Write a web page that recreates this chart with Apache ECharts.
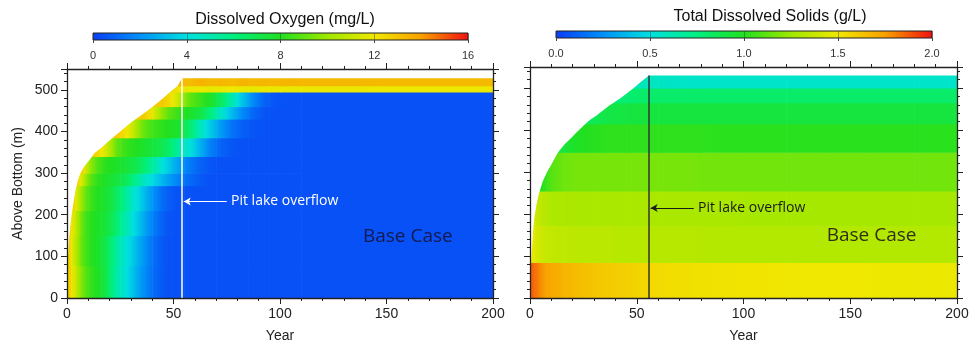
<!DOCTYPE html>
<html>
<head>
<meta charset="utf-8">
<script src="https://cdn.jsdelivr.net/npm/echarts@6/dist/echarts.min.js"></script>
<style>
html, body { margin: 0; padding: 0; background: #fff; }
#chart { width: 973px; height: 348px; }
</style>
</head>
<body>
<div id="chart"></div>
<script>
// lake surface (m above pit bottom) while the pit fills
var doLevelYears = [0, 0.5, 1, 1.5, 2, 3, 4, 5, 6, 8, 10, 13, 16, 19, 22, 25, 28, 31, 34, 37, 40, 43, 46, 49, 52, 54, 200];
var doLakeLevel = [70, 105, 140, 168, 192, 228, 258, 280, 296, 315, 328, 348, 360, 374, 387, 400, 413, 425, 436, 447, 459, 471, 484, 497, 510, 528, 528];
var tdsLevelYears = [0, 0.5, 1, 1.5, 2, 3, 4, 5, 6, 8, 10, 13, 16, 19, 22, 25, 28, 31, 34, 37, 40, 43, 46, 49, 52, 55.7, 200];
var tdsLakeLevel = [50, 85, 125, 165, 190, 222, 245, 262, 278, 300, 318, 346, 365, 380, 395, 410, 424, 434, 446, 458, 468, 478, 490, 502, 515, 530, 530];

// dissolved oxygen (mg/L): year column edges, depth band edges, one row per band
var doYears = [0, 2, 4, 6, 8, 10, 13, 16, 19, 22, 25, 28, 31, 34, 37, 40, 43, 46, 49, 52, 55, 60, 65, 70, 75, 80, 85, 90, 95, 100, 110, 200];
var doDepths = [0, 78, 150, 210, 270, 300, 340, 385, 430, 460, 495, 510, 530];
var do_0_78 = [12.8, 11.6, 10.4, 9.4, 8.8, 8.3, 7.9, 7.3, 6.2, 5.1, 4.4, 3.6, 2.8, 2.1, 1.5, 1.0, 0.7, 0.5, 0.5, 0.5, 0.5, 0.5, 0.5, 0.5, 0.5, 0.5, 0.5, 0.5, 0.5, 0.5, 0.5];
var do_78_150 = [12.6, 11.2, 10.0, 9.0, 8.5, 8.1, 7.7, 7.2, 6.3, 5.3, 4.5, 3.8, 3.0, 2.3, 1.6, 1.1, 0.7, 0.5, 0.5, 0.5, 0.5, 0.5, 0.5, 0.5, 0.5, 0.5, 0.5, 0.5, 0.5, 0.5, 0.5];
var do_150_210 = [12.7, 11.5, 10.2, 9.1, 8.5, 8.1, 7.8, 7.5, 7.0, 6.2, 5.3, 4.5, 3.6, 2.8, 2.0, 1.4, 0.9, 0.6, 0.5, 0.5, 0.5, 0.5, 0.5, 0.5, 0.5, 0.5, 0.5, 0.5, 0.5, 0.5, 0.5];
var do_210_270 = [null, 12.6, 11.0, 9.8, 9.0, 8.4, 8.0, 7.7, 7.3, 6.6, 5.8, 4.9, 4.1, 3.3, 2.5, 1.8, 1.2, 0.8, 0.6, 0.5, 0.5, 0.5, 0.5, 0.5, 0.5, 0.5, 0.5, 0.5, 0.5, 0.5, 0.5];
var do_270_300 = [null, null, 12.6, 11.2, 9.8, 8.8, 8.2, 7.9, 7.6, 7.3, 7.0, 6.4, 5.6, 4.8, 4.2, 3.6, 3.0, 2.4, 1.9, 1.5, 1.1, 0.7, 0.5, 0.5, 0.5, 0.5, 0.5, 0.5, 0.5, 0.5, 0.5];
var do_300_340 = [null, null, null, 12.8, 11.0, 9.6, 8.7, 8.2, 8.0, 7.8, 7.6, 7.3, 7.0, 6.5, 5.8, 5.0, 4.2, 3.5, 2.8, 2.2, 1.5, 0.9, 0.6, 0.5, 0.5, 0.5, 0.5, 0.5, 0.5, 0.5, 0.5];
var do_340_385 = [null, null, null, null, null, 12.8, 12.4, 11.6, 10.2, 9.0, 8.5, 8.2, 8.0, 7.8, 7.5, 7.3, 7.0, 6.5, 5.8, 5.0, 4.2, 2.8, 1.6, 0.9, 0.6, 0.5, 0.5, 0.5, 0.5, 0.5, 0.5];
var do_385_430 = [null, null, null, null, null, null, null, null, 12.8, 12.8, 12.3, 11.5, 10.2, 9.2, 8.7, 8.4, 8.2, 8.0, 7.8, 7.6, 6.4, 4.8, 3.4, 2.2, 1.3, 0.8, 0.6, 0.5, 0.5, 0.5, 0.5];
var do_430_460 = [null, null, null, null, null, null, null, null, null, null, null, null, 12.8, 12.8, 12.3, 11.0, 9.8, 9.0, 8.6, 8.2, 7.8, 7.2, 6.0, 4.4, 3.0, 1.8, 1.0, 0.6, 0.5, 0.5, 0.5];
var do_460_495 = [null, null, null, null, null, null, null, null, null, null, null, null, null, null, null, 12.8, 12.8, 12.5, 11.6, 10.4, 9.0, 8.4, 7.8, 6.6, 5.0, 3.2, 1.8, 0.9, 0.6, 0.5, 0.5];
var do_495_510 = [null, null, null, null, null, null, null, null, null, null, null, null, null, null, null, null, null, 12.6, 12.3, 12.0, 11.8, 11.9, 11.7, 11.8, 12.0, 11.8, 11.7, 11.9, 11.8, 11.8, 11.9];
var do_510_530 = [null, null, null, null, null, null, null, null, null, null, null, null, null, null, null, null, null, null, 13.2, 13.4, 13.2, 13.5, 13.3, 13.4, 13.2, 13.5, 13.3, 13.4, 13.3, 13.4, 13.3];

// total dissolved solids (g/L)
var tdsYears = [0, 2, 4, 6, 8, 10, 13, 16, 20, 25, 30, 35, 40, 45, 50, 55, 60, 70, 80, 100, 120, 140, 160, 180, 200];
var tdsDepths = [0, 85, 173, 255, 347, 415, 465, 500, 535];
var tds_0_85 = [1.86, 1.82, 1.78, 1.75, 1.73, 1.71, 1.69, 1.67, 1.65, 1.63, 1.61, 1.60, 1.59, 1.58, 1.56, 1.55, 1.54, 1.53, 1.52, 1.51, 1.50, 1.50, 1.49, 1.49];
var tds_85_173 = [1.48, 1.42, 1.39, 1.37, 1.36, 1.35, 1.34, 1.34, 1.33, 1.33, 1.33, 1.33, 1.32, 1.32, 1.32, 1.32, 1.32, 1.32, 1.31, 1.31, 1.31, 1.31, 1.31, 1.31];
var tds_173_255 = [1.44, 1.38, 1.34, 1.32, 1.30, 1.29, 1.29, 1.28, 1.28, 1.28, 1.28, 1.28, 1.28, 1.28, 1.28, 1.28, 1.28, 1.28, 1.28, 1.27, 1.27, 1.27, 1.27, 1.27];
var tds_255_347 = [null, null, 1.00, 1.04, 1.08, 1.12, 1.14, 1.16, 1.17, 1.17, 1.17, 1.17, 1.17, 1.17, 1.17, 1.17, 1.17, 1.17, 1.16, 1.16, 1.16, 1.16, 1.16, 1.16];
var tds_347_415 = [null, null, null, null, null, null, 0.92, 0.96, 0.99, 1.01, 1.02, 1.03, 1.03, 1.03, 1.03, 1.03, 1.03, 1.03, 1.02, 1.02, 1.02, 1.02, 1.02, 1.02];
var tds_415_465 = [null, null, null, null, null, null, null, null, null, 0.85, 0.88, 0.90, 0.91, 0.92, 0.92, 0.92, 0.92, 0.92, 0.92, 0.92, 0.92, 0.92, 0.92, 0.92];
var tds_465_500 = [null, null, null, null, null, null, null, null, null, null, null, 0.76, 0.78, 0.80, 0.81, 0.81, 0.81, 0.81, 0.81, 0.81, 0.81, 0.81, 0.81, 0.81];
var tds_500_535 = [null, null, null, null, null, null, null, null, null, null, null, null, null, 0.62, 0.60, 0.58, 0.57, 0.56, 0.56, 0.56, 0.56, 0.56, 0.56, 0.56];

var doTicks = [0, 4, 8, 12, 16];
var tdsTicks = [0, 0.5, 1, 1.5, 2];
var palette = ['#0a3cf5', '#0090f8', '#00e0e0', '#00f080', '#20e020', '#a0e800', '#f0e800', '#f8a000', '#f01010'];

var FONT = 'Liberation Sans';

// each cell keeps its neighbours' values so the fill can blend across the column edges
function buildCells(xEdges, zEdges, rows) {
    var out = [];
    rows.forEach(function (row, j) {
        row.forEach(function (v, i) {
            if (v == null) return;
            var prev = row[i - 1] == null ? v : row[i - 1];
            var next = row[i + 1] == null ? v : row[i + 1];
            out.push([xEdges[i], xEdges[i + 1], zEdges[j], zEdges[j + 1], v, prev, next]);
        });
    });
    return out;
}

function cellRenderer(max) {
    function col(v) {
        return echarts.color.lerp(Math.max(0, Math.min(1, v / max)), palette);
    }
    return function (params, api) {
        var a = api.coord([api.value(0), api.value(3)]);
        var b = api.coord([api.value(1), api.value(2)]);
        var v = api.value(4), p = api.value(5), n = api.value(6);
        return {
            type: 'rect',
            shape: { x: a[0], y: a[1], width: b[0] - a[0] + 0.6, height: b[1] - a[1] + 0.6 },
            style: {
                fill: new echarts.graphic.LinearGradient(0, 0, 1, 0, [
                    { offset: 0, color: col((p + v) / 2) },
                    { offset: 0.5, color: col(v) },
                    { offset: 1, color: col((v + n) / 2) }
                ])
            }
        };
    };
}

function maskRenderer(years, levels) {
    return function (params, api) {
        var pts = years.map(function (x, i) { return api.coord([x, levels[i]]); });
        pts.push(api.coord([200, 550]), api.coord([0, 550]));
        return { type: 'polygon', shape: { points: pts }, style: { fill: '#fff' } };
    };
}

function colorbarRect(params, api) {
    var a = api.coord([api.value(0), 1]);
    var b = api.coord([api.value(1), 0]);
    return {
        type: 'rect',
        shape: { x: a[0], y: a[1], width: b[0] - a[0], height: b[1] - a[1] },
        style: {
            fill: new echarts.graphic.LinearGradient(0, 0, 1, 0, palette.map(function (c, i) {
                return { offset: i / (palette.length - 1), color: c };
            })),
            stroke: '#222',
            lineWidth: 1
        }
    };
}

var lineStyle = { color: '#222', width: 1.3 };
function frameX(grid, pos, labels, name) {
    return {
        type: 'value', gridIndex: grid, position: pos, min: 0, max: 200, interval: 50, z: 10,
        name: name || '', nameLocation: 'middle', nameGap: 31,
        nameTextStyle: { fontFamily: FONT, fontSize: 14, color: '#222' },
        axisLine: { show: true, onZero: false, lineStyle: lineStyle },
        axisTick: { show: true, length: 6, lineStyle: { color: '#222' } },
        minorTick: { show: true, splitNumber: 5, length: 3, lineStyle: { color: '#222' } },
        splitLine: { show: false },
        axisLabel: { show: labels, fontFamily: FONT, fontSize: 14, color: '#222', margin: 9 }
    };
}
function frameY(grid, pos, labels, name) {
    return {
        type: 'value', gridIndex: grid, position: pos, min: 0, max: 550, interval: 100, z: 10,
        name: name || '', nameLocation: 'middle', nameGap: 42, nameRotate: 90,
        nameTextStyle: { fontFamily: FONT, fontSize: 14, color: '#222' },
        axisLine: { show: true, onZero: false, lineStyle: lineStyle },
        axisTick: { show: true, length: 6, lineStyle: { color: '#222' } },
        minorTick: { show: true, splitNumber: 5, length: 3, lineStyle: { color: '#222' } },
        splitLine: { show: false },
        axisLabel: {
            show: labels, fontFamily: FONT, fontSize: 14, color: '#222', margin: 9,
            formatter: function (v) { return v % 100 === 0 ? String(v) : ''; }
        }
    };
}
function colorbarX(grid, ticks, digits) {
    return {
        type: 'value', gridIndex: grid, min: ticks[0], max: ticks[ticks.length - 1],
        interval: ticks[1] - ticks[0], z: 10,
        axisLine: { show: false },
        axisTick: { show: true, length: 3, lineStyle: { color: '#444' } },
        splitLine: { show: true, lineStyle: { color: 'rgba(60,60,60,0.45)', width: 1 } },
        axisLabel: {
            fontFamily: FONT, fontSize: 11, color: '#333', margin: 10,
            formatter: function (v) { return v.toFixed(digits); }
        }
    };
}

function annotations(lineX, lineTop, lineColor, arrowY, textColor, baseY, baseColor) {
    return {
        markLine: {
            silent: true, animation: false, label: { show: false },
            data: [
                [{ coord: [lineX, 0], symbol: 'none', lineStyle: { color: lineColor, width: 1.5, type: 'solid' } },
                 { coord: [lineX, lineTop], symbol: 'none' }],
                [{ coord: [lineX + 21, arrowY], symbol: 'none', lineStyle: { color: textColor, width: 1, type: 'solid' } },
                 { coord: [lineX + 0.8, arrowY], symbol: 'arrow', symbolSize: [6, 7] }]
            ]
        },
        markPoint: {
            silent: true, animation: false, symbol: 'rect', symbolSize: 0,
            data: [
                { coord: [lineX + 23, arrowY],
                  label: { show: true, position: 'right', distance: 0, formatter: 'Pit lake overflow',
                           fontFamily: 'Open Sans', fontSize: 14, color: textColor } },
                { coord: [160, baseY],
                  label: { show: true, position: 'inside', formatter: 'Base Case',
                           fontFamily: 'Open Sans', fontSize: 19, color: baseColor } }
            ]
        }
    };
}

var chart = echarts.init(document.getElementById('chart'));

var doMask = {
    type: 'custom', xAxisIndex: 0, yAxisIndex: 0, z: 3, clip: true, silent: true,
    data: [[0, 0]], renderItem: maskRenderer(doLevelYears, doLakeLevel)
};
Object.assign(doMask, annotations(54, 528, '#fff', 232, '#fff', 147, '#141a50'));

var tdsMask = {
    type: 'custom', xAxisIndex: 2, yAxisIndex: 2, z: 3, clip: true, silent: true,
    data: [[0, 0]], renderItem: maskRenderer(tdsLevelYears, tdsLakeLevel)
};
Object.assign(tdsMask, annotations(55.7, 530, '#333', 214, '#1a1a1a', 148, '#30301a'));

var option = {
    animation: false,
    backgroundColor: '#fff',
    textStyle: { fontFamily: FONT },
    title: [
        { text: 'Dissolved Oxygen (mg/L)', left: 280, top: 7, textAlign: 'center',
          textStyle: { fontFamily: FONT, fontSize: 16, fontWeight: 'normal', color: '#111' } },
        { text: 'Total Dissolved Solids (g/L)', left: 765, top: 4, textAlign: 'center',
          textStyle: { fontFamily: FONT, fontSize: 16, fontWeight: 'normal', color: '#111' } }
    ],
    grid: [
        { left: 67, top: 69, width: 426, height: 229 },
        { left: 530, top: 67, width: 427, height: 232 },
        { left: 93, top: 33, width: 375, height: 7 },
        { left: 556, top: 31, width: 376, height: 7 }
    ],
    xAxis: [
        frameX(0, 'bottom', true, 'Year'),
        frameX(0, 'top', false),
        frameX(1, 'bottom', true, 'Year'),
        frameX(1, 'top', false),
        colorbarX(2, doTicks, 0),
        colorbarX(3, tdsTicks, 1)
    ],
    yAxis: [
        frameY(0, 'left', true, 'Above Bottom (m)'),
        frameY(0, 'right', false),
        frameY(1, 'left', false),
        frameY(1, 'right', false),
        { type: 'value', gridIndex: 2, min: 0, max: 1, show: false },
        { type: 'value', gridIndex: 3, min: 0, max: 1, show: false }
    ],
    series: [
        { type: 'custom', name: 'Dissolved Oxygen', xAxisIndex: 0, yAxisIndex: 0, clip: true, silent: true,
          encode: { x: [0, 1], y: [2, 3] }, renderItem: cellRenderer(16),
          data: buildCells(doYears, doDepths, [do_0_78, do_78_150, do_150_210, do_210_270, do_270_300,
              do_300_340, do_340_385, do_385_430, do_430_460, do_460_495, do_495_510, do_510_530]) },
        doMask,
        { type: 'custom', name: 'Total Dissolved Solids', xAxisIndex: 2, yAxisIndex: 2, clip: true, silent: true,
          encode: { x: [0, 1], y: [2, 3] }, renderItem: cellRenderer(2),
          data: buildCells(tdsYears, tdsDepths, [tds_0_85, tds_85_173, tds_173_255, tds_255_347,
              tds_347_415, tds_415_465, tds_465_500, tds_500_535]) },
        tdsMask,
        { type: 'custom', xAxisIndex: 4, yAxisIndex: 4, silent: true, renderItem: colorbarRect,
          data: [[doTicks[0], doTicks[doTicks.length - 1]]] },
        { type: 'custom', xAxisIndex: 5, yAxisIndex: 5, silent: true, renderItem: colorbarRect,
          data: [[tdsTicks[0], tdsTicks[tdsTicks.length - 1]]] }
    ]
};

chart.setOption(option);
</script>
</body>
</html>
